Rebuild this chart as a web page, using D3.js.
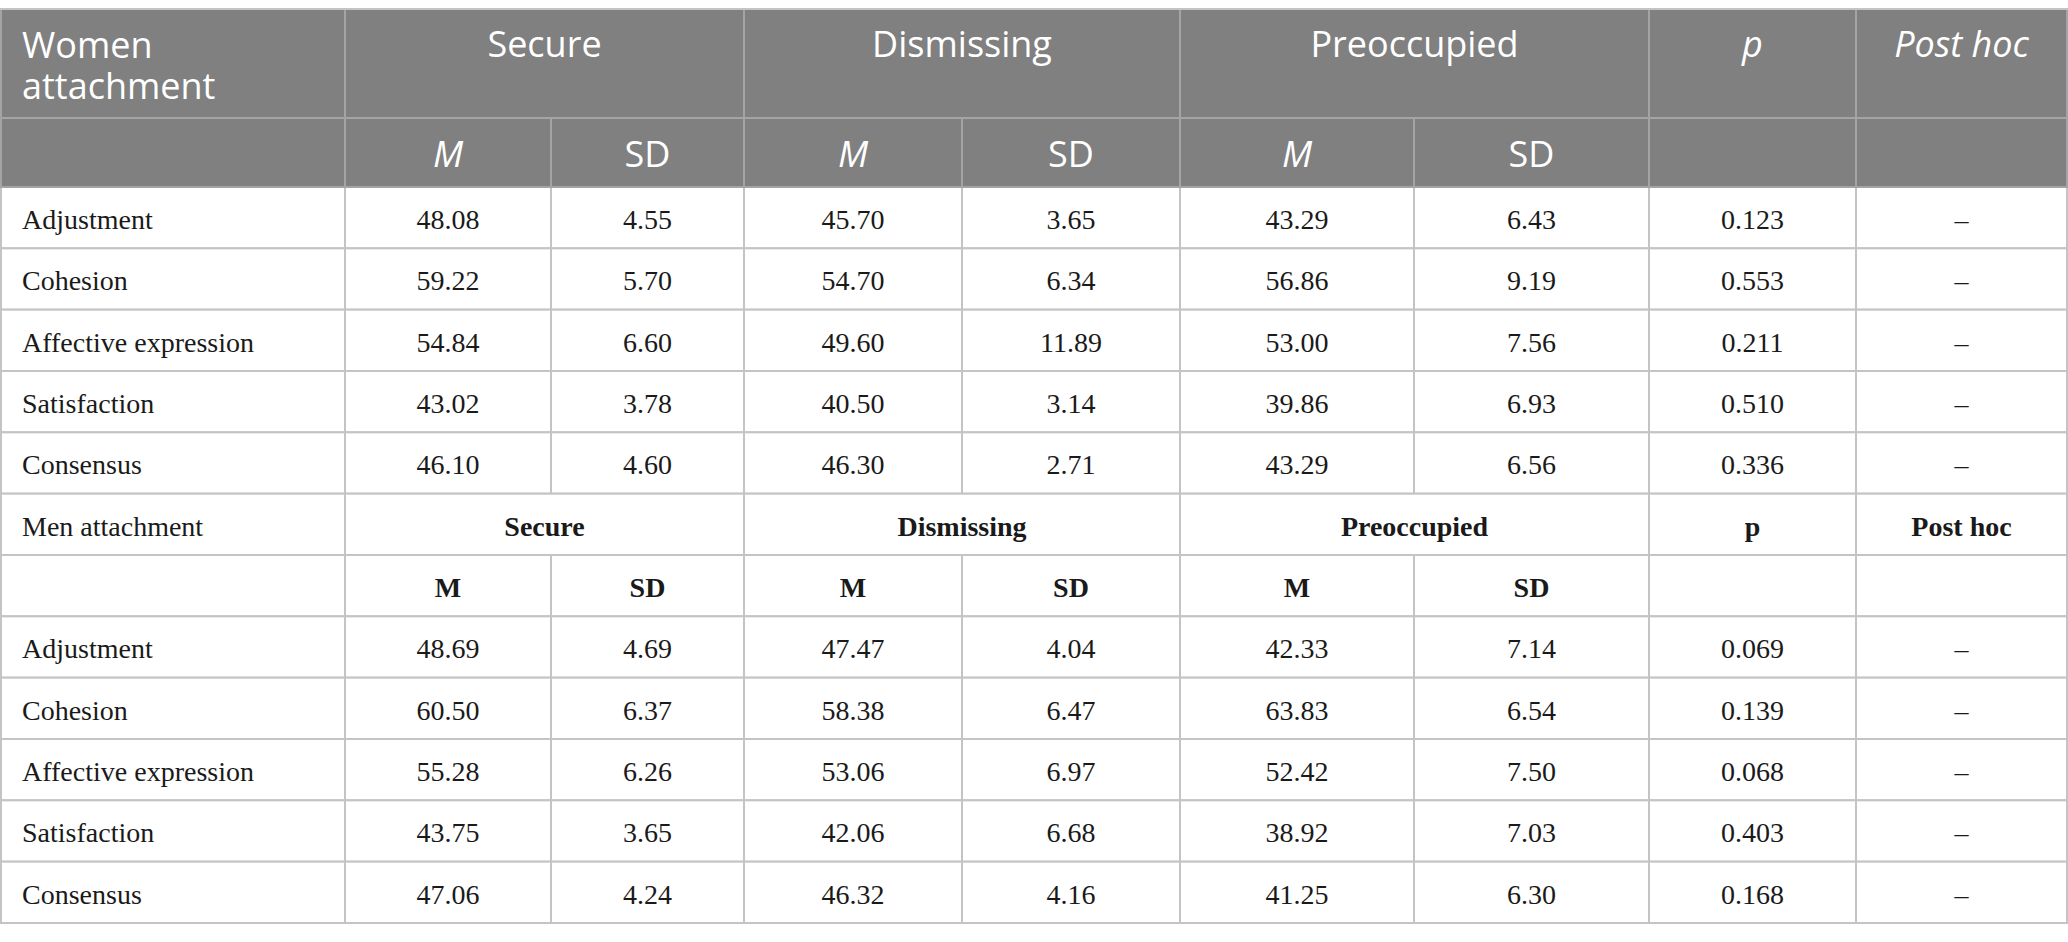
<!DOCTYPE html>
<html>
<head>
<meta charset="utf-8">
<script src="https://cdn.jsdelivr.net/npm/d3@7"></script>
<style>
  body { margin: 0; background: #fff; }
  svg { display: block; }
</style>
</head>
<body>
<div id="chart"></div>
<script>
// table content
var scaleNames = ["Adjustment", "Cohesion", "Affective expression", "Satisfaction", "Consensus"];
var groups = ["Secure", "Dismissing", "Preoccupied"];

// rows = scales, columns = Secure, Dismissing, Preoccupied
var womenM  = [[48.08, 45.70, 43.29], [59.22, 54.70, 56.86], [54.84, 49.60, 53.00], [43.02, 40.50, 39.86], [46.10, 46.30, 43.29]];
var womenSD = [[4.55, 3.65, 6.43], [5.70, 6.34, 9.19], [6.60, 11.89, 7.56], [3.78, 3.14, 6.93], [4.60, 2.71, 6.56]];
var womenP  = [0.123, 0.553, 0.211, 0.510, 0.336];

var menM  = [[48.69, 47.47, 42.33], [60.50, 58.38, 63.83], [55.28, 53.06, 52.42], [43.75, 42.06, 38.92], [47.06, 46.32, 41.25]];
var menSD = [[4.69, 4.04, 7.14], [6.37, 6.47, 6.54], [6.26, 6.97, 7.50], [3.65, 6.68, 7.03], [4.24, 4.16, 6.30]];
var menP  = [0.069, 0.139, 0.068, 0.403, 0.168];

var postHoc = "\u2013";

function init() {

	var w = 2068;
	var h = 942;

	var headFill = "#7f807f";
	var headLine = "#a3a4a3";
	var bodyLine = "#c4c4c4";
	var sans = "'Open Sans', 'Noto Sans', sans-serif";
	var serif = "'Liberation Serif', 'DejaVu Serif', serif";

	// column edges: label, S-M, S-SD, D-M, D-SD, P-M, P-SD, p, post hoc
	var colKeys = ["label", "sM", "sSD", "dM", "dSD", "pM", "pSD", "p", "ph", "end"];
	var xScale = d3.scaleOrdinal()
		.domain(colKeys)
		.range([1, 345, 551, 744, 962, 1180, 1414, 1649, 1856, 2067]);

	function x0(k) { return xScale(k); }
	function x1(k) { return xScale(colKeys[colKeys.indexOf(k) + 1]); }

	// header rows, then 12 body rows
	var topY = 9, head1 = 118, head2 = 187, bottomY = 923;
	var yScale = d3.scaleLinear().domain([0, 12]).range([head2, bottomY]);

	var svg = d3.select("#chart")
		.append("svg")
		.attr("width", w)
		.attr("height", h);

	// build cell list
	var cells = [];
	function cell(a, b, y0, y1, head) {
		cells.push({ x0: x0(a), x1: x1(b), y0: y0, y1: y1, head: head });
	}

	// header row 1
	cell("label", "label", topY, head1, true);
	cell("sM", "sSD", topY, head1, true);
	cell("dM", "dSD", topY, head1, true);
	cell("pM", "pSD", topY, head1, true);
	cell("p", "p", topY, head1, true);
	cell("ph", "ph", topY, head1, true);
	// header row 2
	colKeys.slice(0, 9).forEach(function(k) { cell(k, k, head1, head2, true); });

	for (var r = 0; r < 12; r++) {
		var y0 = yScale(r), y1 = yScale(r + 1);
		if (r === 5) {
			cell("label", "label", y0, y1, false);
			cell("sM", "sSD", y0, y1, false);
			cell("dM", "dSD", y0, y1, false);
			cell("pM", "pSD", y0, y1, false);
			cell("p", "p", y0, y1, false);
			cell("ph", "ph", y0, y1, false);
		} else {
			colKeys.slice(0, 9).forEach(function(k) { cell(k, k, y0, y1, false); });
		}
	}

	// body cells first, header on top
	cells.sort(function(a, b) { return (a.head ? 1 : 0) - (b.head ? 1 : 0); });

	svg.selectAll("rect.cell")
		.data(cells)
		.enter()
		.append("rect")
		.attr("class", "cell")
		.attr("x", function(d) { return d.x0; })
		.attr("y", function(d) { return d.y0; })
		.attr("width", function(d) { return d.x1 - d.x0; })
		.attr("height", function(d) { return d.y1 - d.y0; })
		.attr("fill", function(d) { return d.head ? headFill : "#fff"; })
		.attr("stroke", function(d) { return d.head ? headLine : bodyLine; })
		.attr("stroke-width", 2);

	// top border line of table
	svg.append("line")
		.attr("x1", 0).attr("x2", w)
		.attr("y1", topY).attr("y2", topY)
		.attr("stroke", bodyLine)
		.attr("stroke-width", 2);

	function mid(a, b) { return (x0(a) + x1(b)) / 2; }

	// ---- header text ----
	var head = svg.append("g")
		.attr("fill", "#fff")
		.attr("font-family", sans)
		.attr("font-size", 36);

	head.append("text").attr("x", 22).attr("y", 58).text("Women");
	head.append("text").attr("x", 22).attr("y", 99).text("attachment");

	var spans = [["sM", "sSD"], ["dM", "dSD"], ["pM", "pSD"]];
	head.selectAll("text.grp")
		.data(groups)
		.enter()
		.append("text")
		.attr("class", "grp")
		.attr("x", function(d, i) { return mid(spans[i][0], spans[i][1]); })
		.attr("y", 57)
		.attr("text-anchor", "middle")
		.text(function(d) { return d; });

	head.append("text").attr("x", mid("p", "p")).attr("y", 57)
		.attr("text-anchor", "middle").attr("font-style", "italic").text("p");
	head.append("text").attr("x", mid("ph", "ph")).attr("y", 57)
		.attr("text-anchor", "middle").attr("font-style", "italic").text("Post hoc");

	var subCols = ["sM", "sSD", "dM", "dSD", "pM", "pSD"];
	head.selectAll("text.sub")
		.data(subCols)
		.enter()
		.append("text")
		.attr("class", "sub")
		.attr("x", function(d) { return mid(d, d); })
		.attr("y", 167)
		.attr("text-anchor", "middle")
		.attr("font-style", function(d, i) { return i % 2 === 0 ? "italic" : "normal"; })
		.text(function(d, i) { return i % 2 === 0 ? "M" : "SD"; });

	// ---- body text ----
	var body = svg.append("g")
		.attr("fill", "#1a1a1a")
		.attr("font-family", serif)
		.attr("font-size", 28);

	var baseOff = 42;

	function drawBlock(startRow, mArr, sdArr, pArr) {
		scaleNames.forEach(function(name, i) {
			var y = yScale(startRow + i) + baseOff;
			body.append("text").attr("x", 22).attr("y", y).text(name);
			groups.forEach(function(g, j) {
				body.append("text")
					.attr("x", mid(subCols[j * 2], subCols[j * 2]))
					.attr("y", y)
					.attr("text-anchor", "middle")
					.text(mArr[i][j].toFixed(2));
				body.append("text")
					.attr("x", mid(subCols[j * 2 + 1], subCols[j * 2 + 1]))
					.attr("y", y)
					.attr("text-anchor", "middle")
					.text(sdArr[i][j].toFixed(2));
			});
			body.append("text")
				.attr("x", mid("p", "p")).attr("y", y)
				.attr("text-anchor", "middle")
				.text(pArr[i].toFixed(3));
			body.append("text")
				.attr("x", mid("ph", "ph")).attr("y", y)
				.attr("text-anchor", "middle")
				.text(postHoc);
		});
	}

	drawBlock(0, womenM, womenSD, womenP);

	// men header rows
	var yMen = yScale(5) + baseOff;
	body.append("text").attr("x", 22).attr("y", yMen).text("Men attachment");
	groups.forEach(function(g, i) {
		body.append("text")
			.attr("x", mid(spans[i][0], spans[i][1]))
			.attr("y", yMen)
			.attr("text-anchor", "middle")
			.attr("font-weight", "bold")
			.text(g);
	});
	body.append("text").attr("x", mid("p", "p")).attr("y", yMen)
		.attr("text-anchor", "middle").attr("font-weight", "bold").text("p");
	body.append("text").attr("x", mid("ph", "ph")).attr("y", yMen)
		.attr("text-anchor", "middle").attr("font-weight", "bold").text("Post hoc");

	var ySub = yScale(6) + baseOff;
	subCols.forEach(function(k, i) {
		body.append("text")
			.attr("x", mid(k, k))
			.attr("y", ySub)
			.attr("text-anchor", "middle")
			.attr("font-weight", "bold")
			.text(i % 2 === 0 ? "M" : "SD");
	});

	drawBlock(7, menM, menSD, menP);
}

window.onload = init;
</script>
</body>
</html>
